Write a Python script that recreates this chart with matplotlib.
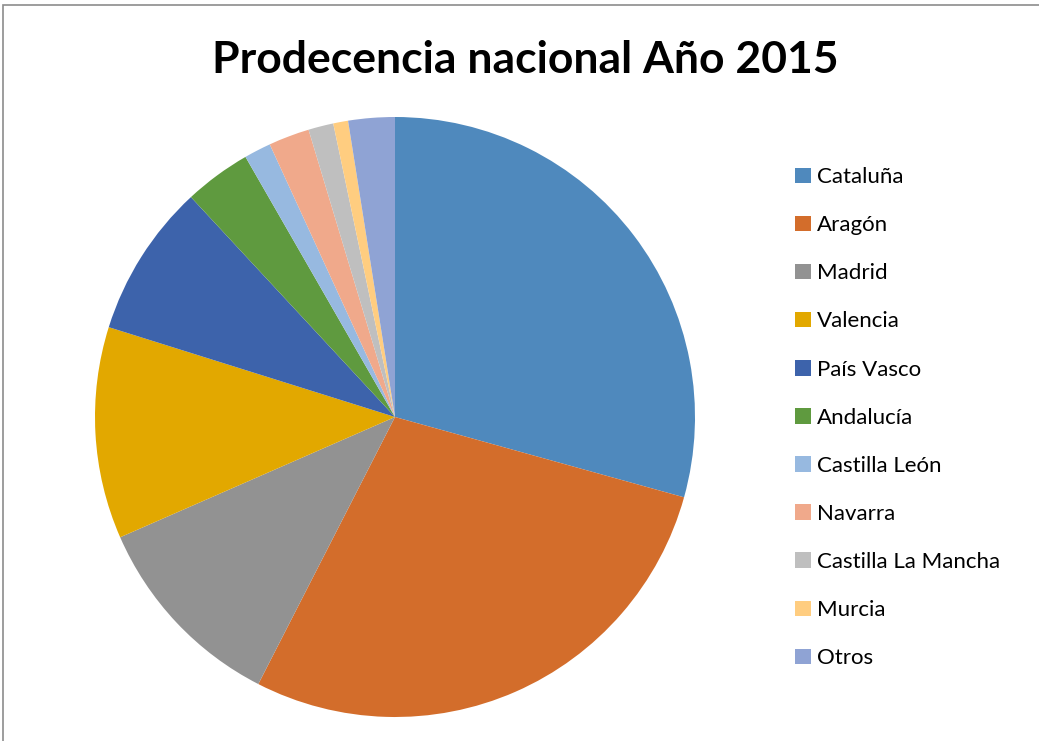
import matplotlib
matplotlib.use('Agg')
import matplotlib.pyplot as plt
from matplotlib.patches import Rectangle, Patch

# Procedencia por comunidad, % aproximado
regions = ['Cataluña', 'Aragón', 'Madrid', 'Valencia', 'País Vasco', 'Andalucía',
           'Castilla León', 'Navarra', 'Castilla La Mancha', 'Murcia', 'Otros']
shares = [29.3, 28.2, 10.9, 11.4, 8.25, 3.6, 1.45, 2.2, 1.35, 0.8, 2.5]
colors = ['#4f89bd', '#d36d2b', '#929292', '#e2a800', '#3d63ab', '#5f9a3f',
          '#97b9e0', '#f0a98b', '#bfbfbf', '#ffcd80', '#8fa3d4']

W, H = 1039, 741
fig = plt.figure(figsize=(W / 100, H / 100), dpi=100)
fig.patch.set_facecolor('white')

# chart frame
fig.patches.append(Rectangle((3 / W, -0.01), 1.02, (H - 5) / H + 0.01,
                             transform=fig.transFigure, fill=False,
                             edgecolor='#8c8c8c', linewidth=1.2))

cx, cy, r = 395, H - 417, 300
ax = fig.add_axes([(cx - r) / W, (cy - r) / H, 2 * r / W, 2 * r / H])
ax.pie(shares, colors=colors, startangle=90, counterclock=False, radius=1,
       wedgeprops=dict(linewidth=0))
ax.set_xlim(-1, 1)
ax.set_ylim(-1, 1)
ax.set_aspect('equal')
ax.axis('off')

fig.text(525 / W, 1 - 60 / H, 'Prodecencia nacional Año 2015', ha='center', va='center',
         fontsize=32, fontweight='bold', family='Lato')

handles = [Patch(facecolor=c, edgecolor='none') for c in colors]
leg = fig.legend(handles, regions, loc='upper left', bbox_to_anchor=(784 / W, 1 - 156 / H),
                 frameon=False, handlelength=0.7, handleheight=0.7,
                 handletextpad=0.3, labelspacing=1.265, borderpad=0,
                 prop=dict(family='Lato', size=16))

fig.savefig('out.png', dpi=100)
